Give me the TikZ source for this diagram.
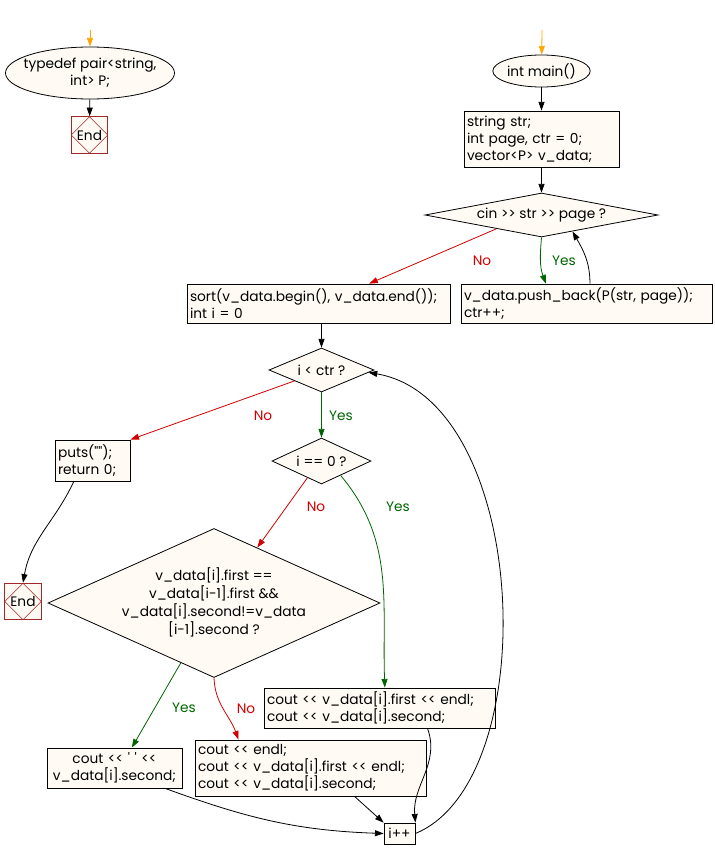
\documentclass[tikz,border=0pt]{standalone}
\usepackage{fontspec}
\setmainfont{Poppins}[Ligatures=TeXOff]
\usepackage{tikz}
\usetikzlibrary{arrows.meta,shapes.geometric}
\definecolor{boxfill}{RGB}{255,250,244}
\definecolor{endred}{RGB}{160,40,40}
\definecolor{nored}{RGB}{210,0,0}
\definecolor{yesgreen}{RGB}{0,100,0}
\definecolor{startorange}{RGB}{255,165,0}
\newcommand{\fixtext}[1]{\raisebox{-0.3em}[0pt][0pt]{\makebox[0pt]{\begin{tabular}{@{}c@{}}#1\end{tabular}}}}

\begin{document}
\begin{tikzpicture}[x=0.75pt,y=0.75pt,
  font=\fontsize{10.3pt}{12.75pt}\selectfont,
  line width=0.6pt,
  code/.style={draw,fill=boxfill,inner xsep=2.25pt,inner ysep=0pt,align=left},
  oval/.style={ellipse,draw,fill=boxfill,inner sep=0pt,align=center},
  cond/.style={diamond,draw,fill=boxfill,inner sep=0pt,align=center},
  endbox/.style={draw=endred,fill=boxfill,inner sep=0pt,
                 minimum width=27.5pt,minimum height=27.5pt,
                 path picture={\draw[endred,line width=0.4pt]
                   (path picture bounding box.north) -- (path picture bounding box.east)
                   -- (path picture bounding box.south) -- (path picture bounding box.west) -- cycle;}},
  ar/.style={-{Triangle[length=6.5pt,width=4.5pt]}},
  st/.style={ar,draw=startorange},
  arno/.style={ar,draw=nored},
  aryes/.style={ar,draw=yesgreen},
  nolab/.style={text=nored},
  yeslab/.style={text=yesgreen}]

\useasboundingbox (0,0) rectangle (714,-860);

\coordinate (s1) at (90,-30);
\coordinate (s2) at (542,-30);

\node[oval,minimum width=126.75pt,minimum height=39pt] (td) at (90,-73)
  {\fixtext{typedef pair<string,\\ int> P;}};
\node[endbox] (end1) at (89.5,-135) {End};

\node[oval,minimum width=62.25pt,minimum height=24pt] (mn) at (541.5,-71) {int main()};
\node[code,text width=111.75pt,minimum height=42pt] (decl) at (541.5,-139)
  {string str;\\ int page, ctr = 0;\\ vector<P> v\_data;};
\node[cond,minimum width=174.75pt,minimum height=33pt,shape aspect=5.3] (cin) at (541.5,-215)
  {cin >> str >> page ?};

\node[code,text width=192.75pt,minimum height=29.25pt] (sort) at (318.5,-303.5)
  {sort(v\_data.begin(), v\_data.end());\\ int i = 0};
\node[code,text width=183.75pt,minimum height=29.25pt] (push) at (586.5,-303.5)
  {v\_data.push\_back(P(str, page));\\ ctr++;};

\node[cond,minimum width=78.75pt,minimum height=33pt,shape aspect=2.4] (ictr) at (321.5,-370)
  {i < ctr ?};
\node[code,text width=51.75pt,minimum height=30.75pt] (puts) at (92.5,-460.5)
  {puts("");\\ return 0;};
\node[endbox] (end2) at (23,-601.5) {End};
\node[cond,minimum width=74.25pt,minimum height=34.5pt,shape aspect=2.15] (izero) at (321.5,-461)
  {i == 0 ?};

\node[cond,minimum width=249pt,minimum height=111.75pt,shape aspect=2.23] (big) at (214,-603)
  {\fixtext{v\_data[i].first ==\\ v\_data[i-1].first \&\&\\
   v\_data[i].second!=v\_data\\ {[i-1]}.second ?}};

\node[code,text width=168.75pt,minimum height=30pt] (cfirst) at (379.5,-708)
  {cout << v\_data[i].first << endl;\\ cout << v\_data[i].second;};
\node[code,text width=96.75pt,minimum height=30pt,align=center] (csp) at (114.5,-768)
  {cout << \textquotesingle\ \textquotesingle\ <<\\ v\_data[i].second;};
\node[code,text width=168.75pt,minimum height=42pt] (cendl) at (310.5,-768)
  {cout << endl;\\ cout << v\_data[i].first << endl;\\ cout << v\_data[i].second;};
\node[code,inner xsep=0pt,minimum width=23.25pt,minimum height=15.75pt,align=center] (ipp) at (399.5,-833.5)
  {i++};

\node[nolab] (cinno) at (482,-261) {No};
\node[yeslab] (cinyes) at (564,-261) {Yes};
\node[nolab] (ctrno) at (263,-416) {No};
\node[yeslab] (ctryes) at (341,-416) {Yes};
\node[nolab] (zerono) at (316,-507) {No};
\node[yeslab] (zeroyes) at (398,-507) {Yes};
\node[yeslab] (bigyes) at (184,-708) {Yes};
\node[nolab] (bigno) at (246,-709) {No};

\draw[st] (s1) -- (td);
\draw[ar] (td) -- (end1);
\draw[st] (s2) -- (mn);
\draw[ar] (mn) -- (decl);
\draw[ar] (decl) -- (cin);
\draw[arno] (cin.197) -- ([xshift=38pt]sort.north);
\draw[aryes] (cin.south) to[out=-95,in=110] ([xshift=-30.5pt]push.north);
\draw[ar] ([xshift=2.6pt]push.north) to[out=90,in=-60] (cin.-28);
\draw[ar] (ictr.north |- sort.south) -- (ictr.north);
\draw[arno] (ictr.202) -- (puts.north east);
\draw[aryes] (ictr) -- (izero);
\draw[ar] ([xshift=-14pt]puts.south) to[out=-115,in=80] (end2.north);
\draw[arno] (izero.230) -- (big.52);
\draw[aryes] (izero.-37) to[out=-50,in=92] ([xshift=4pt]cfirst.north);
\draw[aryes] (big.241) -- ([xshift=13pt]csp.north);
\draw[arno] (big.south) to[out=-88,in=110] ([xshift=-54pt]cendl.north);
\draw[ar] ([xshift=38pt]csp.south) to[out=-20,in=178] (ipp.west);
\draw[ar] ([xshift=33pt]cendl.south) -- (ipp.north west);
\draw[ar] ([xshift=36pt]cfirst.south) to[out=-70,in=95] (ipp.north east);
\draw[ar] (ipp.east) .. controls (545,-780) and (530,-400) .. (ictr.-3);
\end{tikzpicture}
\end{document}
